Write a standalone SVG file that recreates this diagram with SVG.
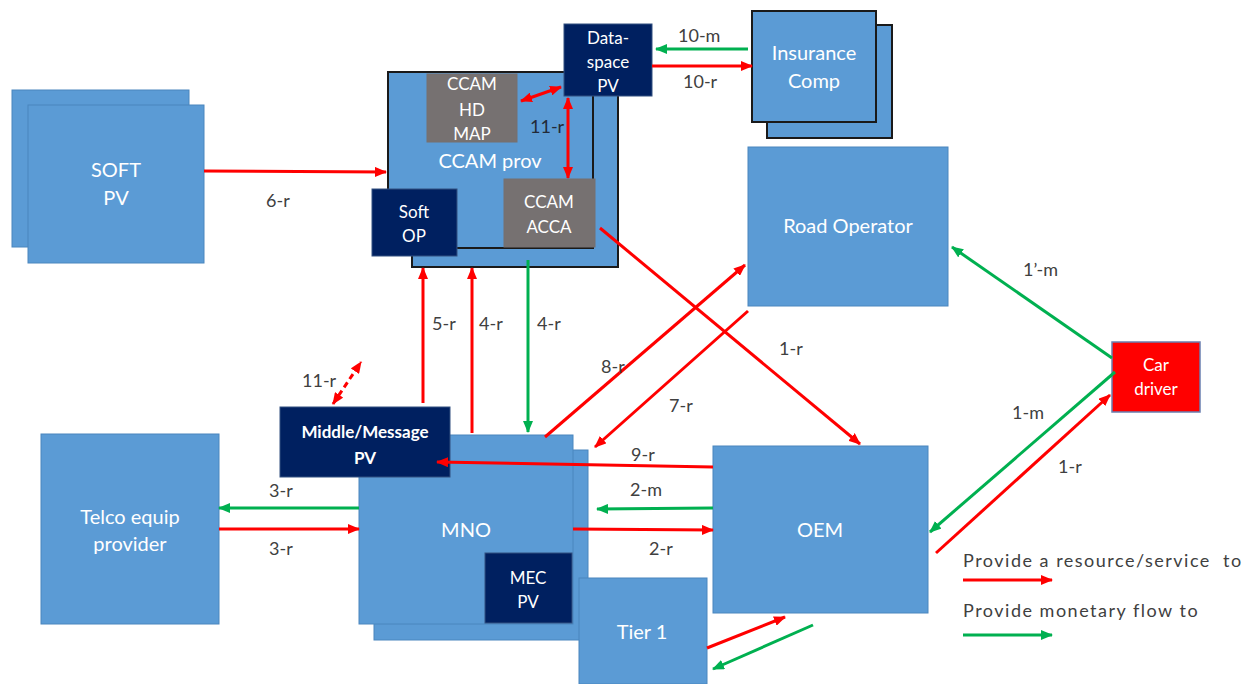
<svg xmlns="http://www.w3.org/2000/svg" width="1249" height="684" viewBox="0 0 1249 684">
<style>
.bx{fill:#5B9BD5;stroke:#4A86BE;stroke-width:1}
.bxd{fill:#5B9BD5;stroke:#1a1a1a;stroke-width:2}
.nv{fill:#002060;stroke:#335080;stroke-width:1}
.gr{fill:#767171;stroke:#767171;stroke-width:1}
.cd{fill:#FF0000;stroke:#6A7FB0;stroke-width:1.5}
.t{font-family:Lato,"Liberation Sans",sans-serif;fill:#FFFFFF;font-size:20px;text-anchor:middle}
.ts{font-family:Lato,"Liberation Sans",sans-serif;fill:#FFFFFF;font-size:17px;text-anchor:middle}
.tb{font-family:Lato,"Liberation Sans",sans-serif;fill:#FFFFFF;font-size:17px;font-weight:bold;text-anchor:middle}
.l{font-family:Lato,"Liberation Sans",sans-serif;fill:#404040;font-size:18px}
.lg{font-family:Lato,"Liberation Sans",sans-serif;fill:#404040;font-size:18px;letter-spacing:1.5px;white-space:pre}
.r{stroke:#FF0000;stroke-width:3;fill:none}
.g{stroke:#00B050;stroke-width:3;fill:none}
</style>
<defs>
<marker id="ar" viewBox="0 0 12 10" refX="11" refY="5" markerWidth="12" markerHeight="10" markerUnits="userSpaceOnUse" orient="auto-start-reverse"><path d="M0,0 L12,5 L0,10 z" fill="#FF0000"/></marker>
<marker id="ag" viewBox="0 0 12 10" refX="11" refY="5" markerWidth="12" markerHeight="10" markerUnits="userSpaceOnUse" orient="auto-start-reverse"><path d="M0,0 L12,5 L0,10 z" fill="#00B050"/></marker>
</defs>

<g id="soft-pv">
<rect class="bx" x="12" y="90" width="177" height="157"/>
<rect class="bx" x="28" y="105" width="176" height="158"/>
<text class="t" x="116" y="177">SOFT</text>
<text class="t" x="116" y="205">PV</text>
</g>

<g id="ccam-prov">
<rect class="bxd" x="412" y="95" width="206" height="172"/>
<rect class="bxd" x="388" y="72" width="205" height="176"/>
<text class="t" x="490" y="168">CCAM prov</text>
</g>

<g id="ccam-hd-map">
<rect class="gr" x="427" y="74" width="90" height="68"/>
<text class="ts" x="472" y="90">CCAM</text>
<text class="ts" x="472" y="116">HD</text>
<text class="ts" x="472" y="140">MAP</text>
</g>

<g id="ccam-acca">
<rect class="gr" x="504" y="179" width="91" height="68"/>
<text class="ts" x="549" y="208">CCAM</text>
<text class="ts" x="549" y="233">ACCA</text>
</g>

<g id="soft-op">
<rect class="nv" x="372" y="189" width="85" height="67"/>
<text class="ts" x="414" y="218">Soft</text>
<text class="ts" x="414" y="242">OP</text>
</g>

<g id="data-space-pv">
<rect class="nv" x="564" y="24" width="88" height="72"/>
<text class="ts" x="608" y="44">Data-</text>
<text class="ts" x="608" y="68">space</text>
<text class="ts" x="608" y="92">PV</text>
</g>

<g id="insurance-comp">
<rect class="bxd" x="767" y="25" width="125" height="113"/>
<rect class="bxd" x="752" y="11" width="124" height="111"/>
<text class="t" x="814" y="60">Insurance</text>
<text class="t" x="814" y="88">Comp</text>
</g>

<g id="road-operator">
<rect class="bx" x="748" y="147" width="200" height="159"/>
<text class="t" x="848" y="233">Road Operator</text>
</g>

<g id="car-driver">
<rect class="cd" x="1112" y="342" width="88" height="70"/>
<text class="ts" x="1156" y="371">Car</text>
<text class="ts" x="1156" y="395">driver</text>
</g>

<g id="telco">
<rect class="bx" x="41" y="434" width="178" height="190"/>
<text class="t" x="130" y="524">Telco equip</text>
<text class="t" x="130" y="551">provider</text>
</g>

<g id="mno">
<rect class="bx" x="374" y="450" width="214" height="190"/>
<rect class="bx" x="359" y="435" width="214" height="189"/>
<text class="t" x="466" y="537">MNO</text>
</g>

<g id="mec-pv">
<rect class="nv" x="485" y="553" width="87" height="70"/>
<text class="ts" x="528" y="584">MEC</text>
<text class="ts" x="528" y="608">PV</text>
</g>

<g id="middle-message-pv">
<rect class="nv" x="280" y="407" width="170" height="70"/>
<text class="tb" x="365" y="438">Middle/Message</text>
<text class="tb" x="365" y="464">PV</text>
</g>

<g id="oem">
<rect class="bx" x="713" y="446" width="215" height="167"/>
<text class="t" x="820" y="537">OEM</text>
</g>

<g id="tier1">
<rect class="bx" x="579" y="578" width="128" height="106"/>
<text class="t" x="642" y="639">Tier 1</text>
</g>

<g id="connectors">
<line class="r" x1="204" y1="171" x2="386" y2="172" marker-end="url(#ar)"/>
<line class="r" x1="521" y1="101" x2="561" y2="87" marker-start="url(#ar)" marker-end="url(#ar)"/>
<line class="r" x1="568" y1="98" x2="568" y2="178" marker-start="url(#ar)" marker-end="url(#ar)"/>
<line class="g" x1="748" y1="49" x2="656" y2="49" marker-end="url(#ag)"/>
<line class="r" x1="652" y1="66" x2="752" y2="66" marker-end="url(#ar)"/>
<line class="r" x1="423" y1="403" x2="423" y2="268" marker-end="url(#ar)"/>
<line class="r" x1="472" y1="433" x2="472" y2="268" marker-end="url(#ar)"/>
<line class="g" x1="528" y1="260" x2="528" y2="432" marker-end="url(#ag)"/>
<line class="r" x1="333" y1="404" x2="361" y2="362" stroke-dasharray="6,4" marker-start="url(#ar)" marker-end="url(#ar)"/>
<line class="r" x1="545" y1="437" x2="745" y2="265" marker-end="url(#ar)"/>
<line class="r" x1="748" y1="311" x2="595" y2="447" marker-end="url(#ar)"/>
<line class="r" x1="600" y1="228" x2="860" y2="444" marker-end="url(#ar)"/>
<line class="r" x1="713" y1="467" x2="437" y2="462" marker-end="url(#ar)"/>
<line class="g" x1="713" y1="508" x2="597" y2="509" marker-end="url(#ag)"/>
<line class="r" x1="573" y1="529" x2="713" y2="530" marker-end="url(#ar)"/>
<line class="g" x1="359" y1="508" x2="219" y2="508" marker-end="url(#ag)"/>
<line class="r" x1="219" y1="529" x2="359" y2="529" marker-end="url(#ar)"/>
<line class="g" x1="1112" y1="358" x2="952" y2="247" marker-end="url(#ag)"/>
<line class="g" x1="1115" y1="372" x2="930" y2="532" marker-end="url(#ag)"/>
<line class="r" x1="936" y1="553" x2="1110" y2="395" marker-end="url(#ar)"/>
<line class="r" x1="707" y1="648" x2="785" y2="617" marker-end="url(#ar)"/>
<line class="g" x1="813" y1="625" x2="713" y2="669" marker-end="url(#ag)"/>
<line class="r" x1="963" y1="580" x2="1052" y2="580" marker-end="url(#ar)"/>
<line class="g" x1="963" y1="635" x2="1052" y2="635" marker-end="url(#ag)"/>
</g>

<g id="labels">
<text class="l" x="266" y="207">6-r</text>
<text class="l" x="530" y="133" style="fill:#222a38">11-r</text>
<text class="l" x="678" y="42">10-m</text>
<text class="l" x="683" y="88">10-r</text>
<text class="l" x="432" y="330">5-r</text>
<text class="l" x="479" y="330">4-r</text>
<text class="l" x="537" y="330">4-r</text>
<text class="l" x="302" y="387">11-r</text>
<text class="l" x="601" y="373">8-r</text>
<text class="l" x="669" y="412">7-r</text>
<text class="l" x="779" y="355">1-r</text>
<text class="l" x="631" y="461">9-r</text>
<text class="l" x="630" y="496">2-m</text>
<text class="l" x="649" y="555">2-r</text>
<text class="l" x="269" y="497">3-r</text>
<text class="l" x="269" y="555">3-r</text>
<text class="l" x="1023" y="276">1’-m</text>
<text class="l" x="1012" y="419">1-m</text>
<text class="l" x="1058" y="473">1-r</text>
<text class="lg" x="963" y="567" xml:space="preserve">Provide a resource/service  to</text>
<text class="lg" x="963" y="617">Provide monetary flow to</text>
</g>
</svg>
